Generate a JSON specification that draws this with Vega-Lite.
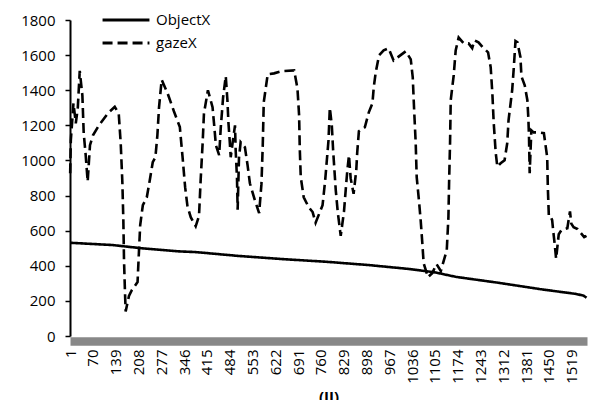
{
  "$schema": "https://vega.github.io/schema/vega-lite/v6.json",
  "width": 517,
  "height": 316,
  "autosize": {"type": "none"},
  "padding": {"left": 70, "top": 20, "right": 9, "bottom": 64},
  "background": "white",
  "config": {
    "view": {"stroke": null},
    "font": "Open Sans",
    "axis": {"labelFont": "Open Sans", "labelFontSize": 15, "labelColor": "black", "grid": false},
    "legend": {"labelFont": "Open Sans", "labelFontSize": 15, "labelColor": "black"}
  },
  "data": {
    "values": [
      {"series": "ObjectX", "i": 1, "v": 531},
      {"series": "ObjectX", "i": 130, "v": 518},
      {"series": "ObjectX", "i": 221, "v": 499},
      {"series": "ObjectX", "i": 330, "v": 482},
      {"series": "ObjectX", "i": 381, "v": 478},
      {"series": "ObjectX", "i": 511, "v": 456},
      {"series": "ObjectX", "i": 644, "v": 438},
      {"series": "ObjectX", "i": 775, "v": 423},
      {"series": "ObjectX", "i": 905, "v": 404},
      {"series": "ObjectX", "i": 1026, "v": 382},
      {"series": "ObjectX", "i": 1107, "v": 362},
      {"series": "ObjectX", "i": 1168, "v": 337},
      {"series": "ObjectX", "i": 1298, "v": 303},
      {"series": "ObjectX", "i": 1431, "v": 265},
      {"series": "ObjectX", "i": 1531, "v": 240},
      {"series": "ObjectX", "i": 1555, "v": 230},
      {"series": "ObjectX", "i": 1564, "v": 218},
      {"series": "gazeX", "i": 1, "v": 927},
      {"series": "gazeX", "i": 3, "v": 1115},
      {"series": "gazeX", "i": 11, "v": 1326},
      {"series": "gazeX", "i": 18, "v": 1212},
      {"series": "gazeX", "i": 24, "v": 1297},
      {"series": "gazeX", "i": 30, "v": 1510},
      {"series": "gazeX", "i": 38, "v": 1370},
      {"series": "gazeX", "i": 42, "v": 1155},
      {"series": "gazeX", "i": 48, "v": 1030},
      {"series": "gazeX", "i": 54, "v": 880},
      {"series": "gazeX", "i": 61, "v": 1087},
      {"series": "gazeX", "i": 70, "v": 1143},
      {"series": "gazeX", "i": 88, "v": 1200},
      {"series": "gazeX", "i": 115, "v": 1268},
      {"series": "gazeX", "i": 136, "v": 1305},
      {"series": "gazeX", "i": 148, "v": 1268},
      {"series": "gazeX", "i": 154, "v": 1098},
      {"series": "gazeX", "i": 159, "v": 876},
      {"series": "gazeX", "i": 162, "v": 660},
      {"series": "gazeX", "i": 164, "v": 432},
      {"series": "gazeX", "i": 167, "v": 245},
      {"series": "gazeX", "i": 169, "v": 140},
      {"series": "gazeX", "i": 179, "v": 228},
      {"series": "gazeX", "i": 188, "v": 262},
      {"series": "gazeX", "i": 205, "v": 307},
      {"series": "gazeX", "i": 209, "v": 472},
      {"series": "gazeX", "i": 213, "v": 632},
      {"series": "gazeX", "i": 221, "v": 745},
      {"series": "gazeX", "i": 233, "v": 790},
      {"series": "gazeX", "i": 242, "v": 887},
      {"series": "gazeX", "i": 251, "v": 990},
      {"series": "gazeX", "i": 259, "v": 1018},
      {"series": "gazeX", "i": 265, "v": 1143},
      {"series": "gazeX", "i": 270, "v": 1303},
      {"series": "gazeX", "i": 278, "v": 1460},
      {"series": "gazeX", "i": 296, "v": 1382},
      {"series": "gazeX", "i": 315, "v": 1280},
      {"series": "gazeX", "i": 333, "v": 1190},
      {"series": "gazeX", "i": 341, "v": 1024},
      {"series": "gazeX", "i": 349, "v": 848},
      {"series": "gazeX", "i": 356, "v": 740},
      {"series": "gazeX", "i": 366, "v": 677},
      {"series": "gazeX", "i": 381, "v": 625},
      {"series": "gazeX", "i": 391, "v": 683},
      {"series": "gazeX", "i": 396, "v": 888},
      {"series": "gazeX", "i": 402, "v": 1098},
      {"series": "gazeX", "i": 406, "v": 1268},
      {"series": "gazeX", "i": 418, "v": 1400},
      {"series": "gazeX", "i": 432, "v": 1303},
      {"series": "gazeX", "i": 437, "v": 1200},
      {"series": "gazeX", "i": 442, "v": 1087},
      {"series": "gazeX", "i": 452, "v": 1030},
      {"series": "gazeX", "i": 457, "v": 1190},
      {"series": "gazeX", "i": 464, "v": 1360},
      {"series": "gazeX", "i": 472, "v": 1480},
      {"series": "gazeX", "i": 477, "v": 1343},
      {"series": "gazeX", "i": 480, "v": 1218},
      {"series": "gazeX", "i": 484, "v": 1110},
      {"series": "gazeX", "i": 487, "v": 1018},
      {"series": "gazeX", "i": 493, "v": 1104},
      {"series": "gazeX", "i": 500, "v": 1200},
      {"series": "gazeX", "i": 502, "v": 1058},
      {"series": "gazeX", "i": 506, "v": 899},
      {"series": "gazeX", "i": 508, "v": 720},
      {"series": "gazeX", "i": 512, "v": 1013},
      {"series": "gazeX", "i": 517, "v": 1104},
      {"series": "gazeX", "i": 530, "v": 1075},
      {"series": "gazeX", "i": 538, "v": 973},
      {"series": "gazeX", "i": 545, "v": 870},
      {"series": "gazeX", "i": 560, "v": 774},
      {"series": "gazeX", "i": 573, "v": 700},
      {"series": "gazeX", "i": 580, "v": 865},
      {"series": "gazeX", "i": 584, "v": 1087},
      {"series": "gazeX", "i": 587, "v": 1331},
      {"series": "gazeX", "i": 599, "v": 1491},
      {"series": "gazeX", "i": 618, "v": 1496},
      {"series": "gazeX", "i": 641, "v": 1508},
      {"series": "gazeX", "i": 679, "v": 1513},
      {"series": "gazeX", "i": 689, "v": 1411},
      {"series": "gazeX", "i": 694, "v": 1257},
      {"series": "gazeX", "i": 696, "v": 1070},
      {"series": "gazeX", "i": 699, "v": 905},
      {"series": "gazeX", "i": 708, "v": 790},
      {"series": "gazeX", "i": 723, "v": 734},
      {"series": "gazeX", "i": 735, "v": 706},
      {"series": "gazeX", "i": 744, "v": 645},
      {"series": "gazeX", "i": 765, "v": 745},
      {"series": "gazeX", "i": 773, "v": 888},
      {"series": "gazeX", "i": 783, "v": 1115},
      {"series": "gazeX", "i": 787, "v": 1300},
      {"series": "gazeX", "i": 793, "v": 1200},
      {"series": "gazeX", "i": 797, "v": 1058},
      {"series": "gazeX", "i": 805, "v": 830},
      {"series": "gazeX", "i": 811, "v": 706},
      {"series": "gazeX", "i": 820, "v": 570},
      {"series": "gazeX", "i": 830, "v": 711},
      {"series": "gazeX", "i": 835, "v": 830},
      {"series": "gazeX", "i": 840, "v": 944},
      {"series": "gazeX", "i": 845, "v": 1030},
      {"series": "gazeX", "i": 850, "v": 899},
      {"series": "gazeX", "i": 859, "v": 810},
      {"series": "gazeX", "i": 867, "v": 944},
      {"series": "gazeX", "i": 870, "v": 1047},
      {"series": "gazeX", "i": 875, "v": 1166},
      {"series": "gazeX", "i": 893, "v": 1189},
      {"series": "gazeX", "i": 905, "v": 1274},
      {"series": "gazeX", "i": 916, "v": 1326},
      {"series": "gazeX", "i": 920, "v": 1417},
      {"series": "gazeX", "i": 926, "v": 1502},
      {"series": "gazeX", "i": 936, "v": 1599},
      {"series": "gazeX", "i": 950, "v": 1627},
      {"series": "gazeX", "i": 965, "v": 1639},
      {"series": "gazeX", "i": 980, "v": 1570},
      {"series": "gazeX", "i": 1017, "v": 1622},
      {"series": "gazeX", "i": 1032, "v": 1576},
      {"series": "gazeX", "i": 1038, "v": 1474},
      {"series": "gazeX", "i": 1042, "v": 1297},
      {"series": "gazeX", "i": 1047, "v": 1098},
      {"series": "gazeX", "i": 1050, "v": 905},
      {"series": "gazeX", "i": 1057, "v": 768},
      {"series": "gazeX", "i": 1062, "v": 660},
      {"series": "gazeX", "i": 1067, "v": 529},
      {"series": "gazeX", "i": 1071, "v": 415},
      {"series": "gazeX", "i": 1084, "v": 335},
      {"series": "gazeX", "i": 1097, "v": 358},
      {"series": "gazeX", "i": 1110, "v": 410},
      {"series": "gazeX", "i": 1123, "v": 370},
      {"series": "gazeX", "i": 1141, "v": 489},
      {"series": "gazeX", "i": 1146, "v": 677},
      {"series": "gazeX", "i": 1148, "v": 870},
      {"series": "gazeX", "i": 1151, "v": 1104},
      {"series": "gazeX", "i": 1153, "v": 1343},
      {"series": "gazeX", "i": 1162, "v": 1485},
      {"series": "gazeX", "i": 1168, "v": 1627},
      {"series": "gazeX", "i": 1177, "v": 1700},
      {"series": "gazeX", "i": 1192, "v": 1667},
      {"series": "gazeX", "i": 1207, "v": 1667},
      {"series": "gazeX", "i": 1218, "v": 1640},
      {"series": "gazeX", "i": 1225, "v": 1684},
      {"series": "gazeX", "i": 1237, "v": 1673},
      {"series": "gazeX", "i": 1250, "v": 1644},
      {"series": "gazeX", "i": 1266, "v": 1616},
      {"series": "gazeX", "i": 1274, "v": 1530},
      {"series": "gazeX", "i": 1279, "v": 1383},
      {"series": "gazeX", "i": 1283, "v": 1218},
      {"series": "gazeX", "i": 1289, "v": 1047},
      {"series": "gazeX", "i": 1294, "v": 965},
      {"series": "gazeX", "i": 1304, "v": 984},
      {"series": "gazeX", "i": 1316, "v": 1001},
      {"series": "gazeX", "i": 1324, "v": 1098},
      {"series": "gazeX", "i": 1328, "v": 1229},
      {"series": "gazeX", "i": 1339, "v": 1400},
      {"series": "gazeX", "i": 1344, "v": 1531},
      {"series": "gazeX", "i": 1349, "v": 1680},
      {"series": "gazeX", "i": 1355, "v": 1673},
      {"series": "gazeX", "i": 1364, "v": 1588},
      {"series": "gazeX", "i": 1367, "v": 1479},
      {"series": "gazeX", "i": 1377, "v": 1428},
      {"series": "gazeX", "i": 1385, "v": 1343},
      {"series": "gazeX", "i": 1388, "v": 1240},
      {"series": "gazeX", "i": 1390, "v": 1127},
      {"series": "gazeX", "i": 1392, "v": 927},
      {"series": "gazeX", "i": 1397, "v": 1172},
      {"series": "gazeX", "i": 1404, "v": 1160},
      {"series": "gazeX", "i": 1419, "v": 1160},
      {"series": "gazeX", "i": 1435, "v": 1155},
      {"series": "gazeX", "i": 1445, "v": 1018},
      {"series": "gazeX", "i": 1447, "v": 842},
      {"series": "gazeX", "i": 1450, "v": 683},
      {"series": "gazeX", "i": 1455, "v": 683},
      {"series": "gazeX", "i": 1460, "v": 660},
      {"series": "gazeX", "i": 1464, "v": 586},
      {"series": "gazeX", "i": 1468, "v": 518},
      {"series": "gazeX", "i": 1472, "v": 440},
      {"series": "gazeX", "i": 1480, "v": 580},
      {"series": "gazeX", "i": 1488, "v": 603},
      {"series": "gazeX", "i": 1506, "v": 614},
      {"series": "gazeX", "i": 1514, "v": 710},
      {"series": "gazeX", "i": 1518, "v": 640},
      {"series": "gazeX", "i": 1525, "v": 620},
      {"series": "gazeX", "i": 1537, "v": 609},
      {"series": "gazeX", "i": 1557, "v": 563},
      {"series": "gazeX", "i": 1564, "v": 570}
    ]
  },
  "mark": {"type": "line", "color": "black", "strokeWidth": 2.6, "strokeCap": "butt"},
  "encoding": {
    "x": {
      "field": "i", "type": "quantitative",
      "scale": {"domain": [0.5, 1565.5], "nice": false, "zero": false},
      "axis": {
        "values": [1, 70, 139, 208, 277, 346, 415, 484, 553, 622, 691, 760, 829, 898, 967, 1036, 1105, 1174, 1243, 1312, 1381, 1450, 1519],
        "format": "d", "labelAngle": -90, "labelAlign": "right", "labelBaseline": "middle",
        "ticks": false, "domainColor": "#888888", "domainWidth": 8.5, "offset": 5,
        "labelPadding": 8, "labelOverlap": false, "labelFlush": false,
        "title": "(II)", "titleFontSize": 15, "titleFontWeight": "bold", "titleFont": "Open Sans", "titlePadding": 6
      }
    },
    "y": {
      "field": "v", "type": "quantitative",
      "scale": {"domain": [0, 1800], "nice": false},
      "axis": {
        "values": [0, 200, 400, 600, 800, 1000, 1200, 1400, 1600, 1800],
        "format": "d",
        "domainColor": "black", "domainWidth": 2, "tickColor": "black", "tickWidth": 1.5, "tickSize": 5,
        "labelPadding": 10, "title": null
      }
    },
    "detail": {"field": "series"},
    "strokeDash": {
      "field": "series", "type": "nominal",
      "scale": {"domain": ["ObjectX", "gazeX"], "range": [[1, 0], [10, 5]]},
      "legend": {
        "orient": "none", "legendX": 31, "legendY": -11, "title": null,
        "symbolType": "stroke", "symbolSize": 2200, "symbolStrokeWidth": 3, "symbolStrokeColor": "black",
        "clipHeight": 22, "labelOffset": 5, "rowPadding": 1
      }
    }
  }
}
